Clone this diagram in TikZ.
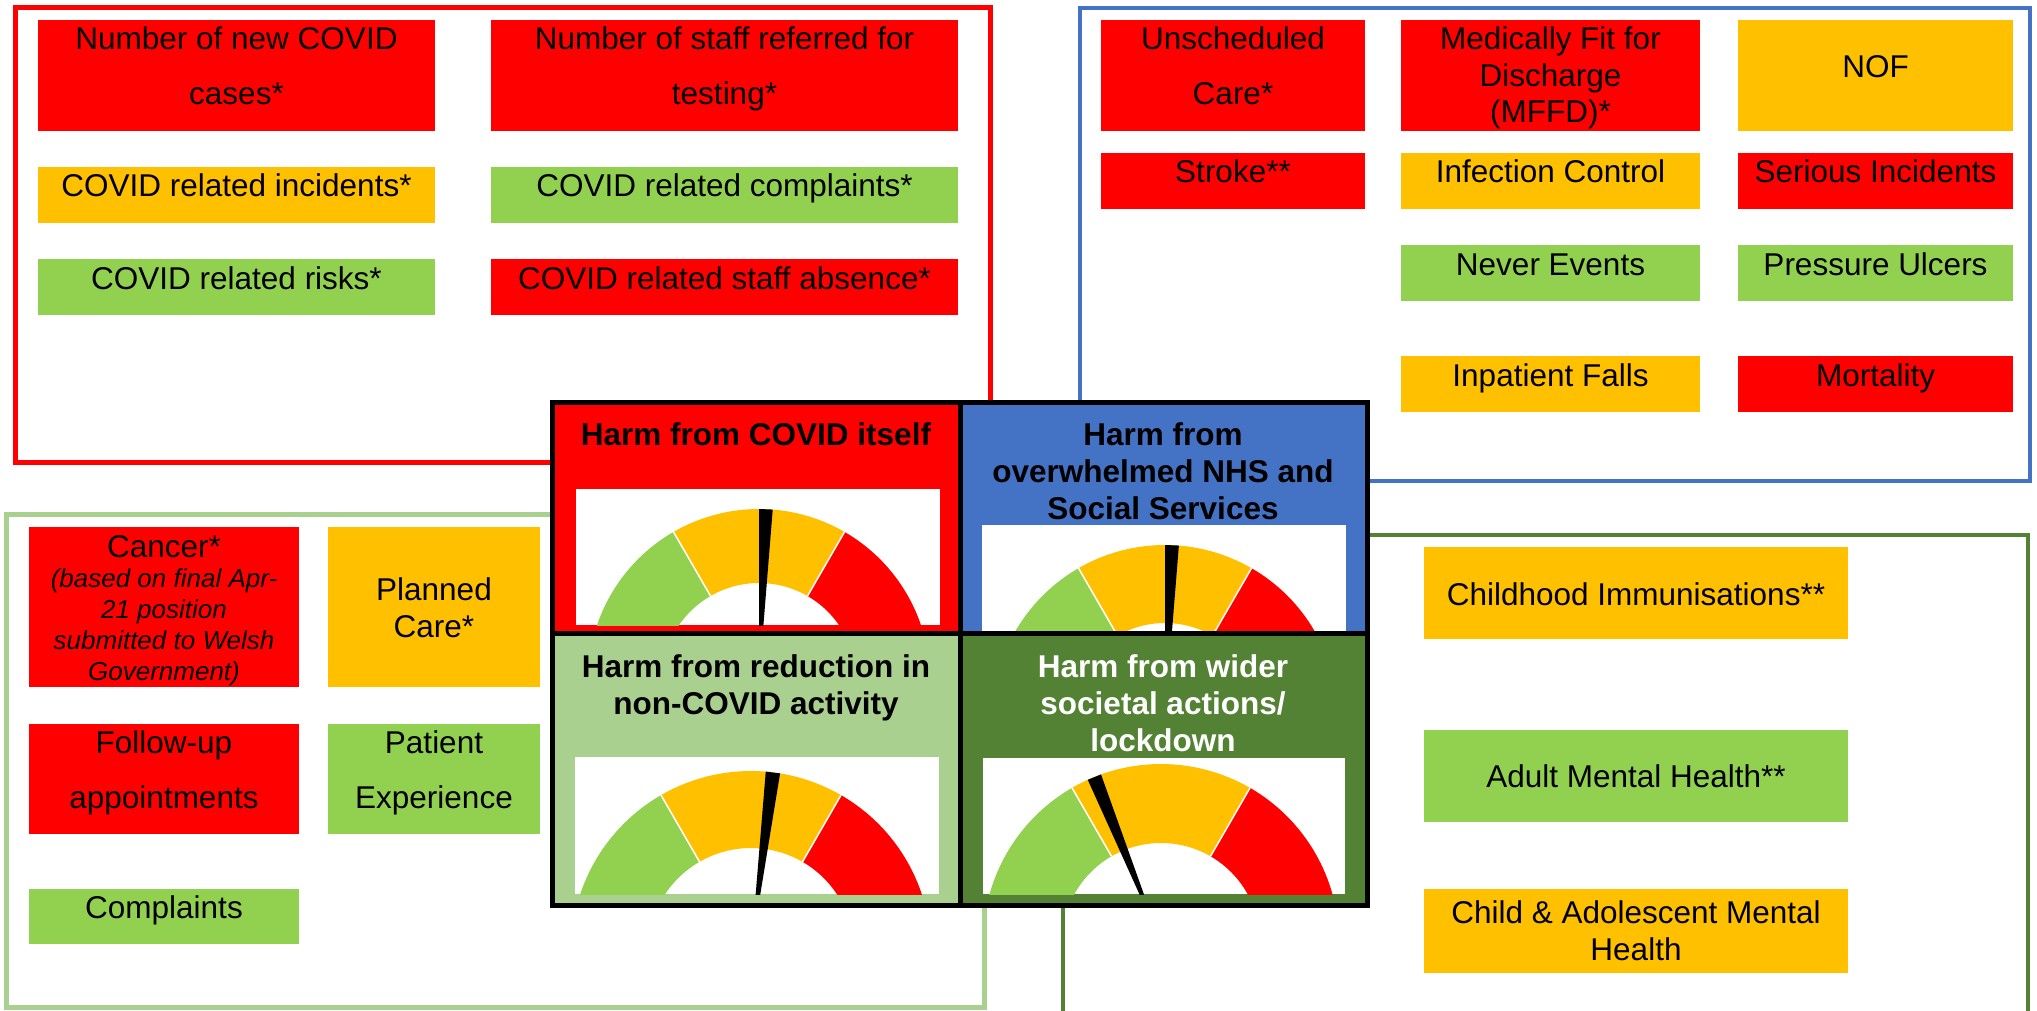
\documentclass[tikz,border=0pt]{standalone}
\usepackage{fontspec}
\setmainfont{Liberation Sans}
\definecolor{ragRed}{HTML}{FF0000}
\definecolor{ragAmber}{HTML}{FFC000}
\definecolor{ragGreen}{HTML}{92D050}
\definecolor{harmBlue}{HTML}{4472C4}
\definecolor{harmLight}{HTML}{A9D08E}
\definecolor{harmDark}{HTML}{548235}

\begin{document}
\begin{tikzpicture}[x=1pt, y=-1pt,
    kpitxt/.style={inner sep=0pt, align=center, font=\fontsize{31.5}{36.5}\selectfont},
    widetxt/.style={kpitxt, font=\fontsize{31.5}{55}\selectfont},
    notetxt/.style={kpitxt, font=\itshape\fontsize{26}{30.7}\selectfont},
    harmtxt/.style={inner sep=0pt, align=center, font=\bfseries\fontsize{31.5}{37}\selectfont},
    seg/.style={draw=white, line width=1.5pt}]

    \useasboundingbox (0,0) rectangle (2037,1011);

    % Group frames
    \draw[ragRed, line width=5pt] (15.5,7.5) rectangle (990,462);
    \draw[harmBlue, line width=4pt] (1080,8) rectangle (2030,481);
    \draw[harmLight, line width=5pt] (6.5,514.5) rectangle (984,1007);
    \draw[harmDark, line width=4.5pt] (1063,1011) |- (2028,535) -- (2028,1011);

    % RAG boxes
    \foreach \c/\xa/\ya/\xb/\yb in {
        ragRed/38/20/435/131, ragRed/491/20/958/131,
        ragAmber/38/167/435/223, ragGreen/491/167/958/223,
        ragGreen/38/259/435/315, ragRed/491/259/958/315,
        ragRed/1101/20/1365/131, ragRed/1401/20/1700/131, ragAmber/1738/20/2013/131,
        ragRed/1101/153/1365/209, ragAmber/1401/153/1700/209, ragRed/1738/153/2013/209,
        ragGreen/1401/245/1700/301, ragGreen/1738/245/2013/301,
        ragAmber/1401/356/1700/412, ragRed/1738/356/2013/412,
        ragRed/29/527/299/687, ragAmber/328/527/540/687,
        ragRed/29/724/299/834, ragGreen/328/724/540/834,
        ragGreen/29/889/299/944,
        ragAmber/1424/547/1848/639, ragGreen/1424/730/1848/822, ragAmber/1424/889/1848/973} {
        \fill[\c] (\xa,\ya) rectangle (\xb,\yb);
    }

    % COVID itself (base = last line)
    \node[widetxt, anchor=base] (newcases) at (236.5,105) {Number of new COVID\\cases*};
    \node[widetxt, anchor=base] (stafftest) at (724.5,105) {Number of staff referred for\\testing*};
    \node[kpitxt, anchor=base] (incidents) at (236.5,197) {COVID related incidents*};
    \node[kpitxt, anchor=base] (complaints) at (724.5,197) {COVID related complaints*};
    \node[kpitxt, anchor=base] (risks) at (236.5,289) {COVID related risks*};
    \node[kpitxt, anchor=base] (absence) at (724.5,289) {COVID related staff absence*};

    % Overwhelmed NHS
    \node[widetxt, anchor=base] (unsched) at (1233,105) {Unscheduled\\Care*};
    \node[kpitxt, anchor=base] (mffd) at (1550.5,123) {Medically Fit for\\Discharge\\(MFFD)*};
    \node[kpitxt, anchor=base] (nof) at (1875.5,78) {NOF};
    \node[kpitxt, anchor=base] (stroke) at (1233,183) {Stroke**};
    \node[kpitxt, anchor=base] (infection) at (1550.5,183) {Infection Control};
    \node[kpitxt, anchor=base] (serious) at (1875.5,183) {Serious Incidents};
    \node[kpitxt, anchor=base] (never) at (1550.5,275) {Never Events};
    \node[kpitxt, anchor=base] (pressure) at (1875.5,275) {Pressure Ulcers};
    \node[kpitxt, anchor=base] (falls) at (1550.5,386) {Inpatient Falls};
    \node[kpitxt, anchor=base] (mortality) at (1875.5,386) {Mortality};

    % Non-COVID activity
    \node[kpitxt, anchor=base] (cancer) at (164,557) {Cancer*};
    \node[notetxt, anchor=base] (cancernote) at (164,680) {(based on final Apr-\\21 position\\submitted to Welsh\\Government)};
    \node[kpitxt, anchor=base] (planned) at (434,637) {Planned\\Care*};
    \node[widetxt, anchor=base] (followup) at (164,808) {Follow-up\\appointments};
    \node[widetxt, anchor=base] (patient) at (434,808) {Patient\\Experience};
    \node[kpitxt, anchor=base] (complaintsb) at (164,918) {Complaints};

    % Wider societal actions
    \node[kpitxt, anchor=base] (immun) at (1636,605) {Childhood Immunisations**};
    \node[kpitxt, anchor=base] (adultmh) at (1636,787) {Adult Mental Health**};
    \node[kpitxt, anchor=base] (camhs) at (1636,960) {Child \& Adolescent Mental\\Health};

    % Harm panels
    \fill[ragRed] (552,402) rectangle (960,633);
    \fill[harmBlue] (960,402) rectangle (1367,633);
    \fill[harmLight] (552,633) rectangle (960,905);
    \fill[harmDark] (960,633) rectangle (1367,905);

    % Gauges
    \foreach \cx/\cy/\ro/\ri/\nd/\xa/\ya/\xb/\yb in {
        759/680/171/97/87.7/576/489/940/625,
        1165/718/173/95/87.7/982/525/1346/634,
        751/951/180/103/83/575/757/939/894,
        1161/942/178/99/112/983/758/1345/894} {
        \begin{scope}
            \clip (\xa,\ya) rectangle (\xb,\yb);
            \fill[white] (\xa,\ya) rectangle (\xb,\yb);
            \begin{scope}[shift={(\cx,\cy)}, y=1pt]
                \fill[ragGreen] (180:\ro) arc[start angle=180, end angle=120, radius=\ro]
                    -- (120:\ri) arc[start angle=120, end angle=180, radius=\ri] -- cycle;
                \fill[ragAmber] (120:\ro) arc[start angle=120, end angle=60, radius=\ro]
                    -- (60:\ri) arc[start angle=60, end angle=120, radius=\ri] -- cycle;
                \fill[ragRed] (60:\ro) arc[start angle=60, end angle=0, radius=\ro]
                    -- (0:\ri) arc[start angle=0, end angle=60, radius=\ri] -- cycle;
                \draw[seg] (120:\ri) -- (120:\ro) (60:\ri) -- (60:\ro);
                % needle
                \fill[black] (0,0) -- ({\nd-2.3}:\ro) -- ({\nd+2.3}:\ro) -- cycle;
            \end{scope}
        \end{scope}
    }

    \draw[line width=5pt] (552,402) rectangle (1367,905) (960,402) -- (960,905) (552,633) -- (1367,633);

    \node[harmtxt, anchor=base] (covid) at (756,445) {Harm from COVID itself};
    \node[harmtxt, anchor=base] (nhs) at (1163,519) {Harm from\\overwhelmed NHS and\\Social Services};
    \node[harmtxt, anchor=base] (noncovid) at (756,714) {Harm from reduction in\\non-COVID activity};
    \node[harmtxt, anchor=base, white] (societal) at (1163,751) {Harm from wider\\societal actions/\\lockdown};

\end{tikzpicture}
\end{document}
